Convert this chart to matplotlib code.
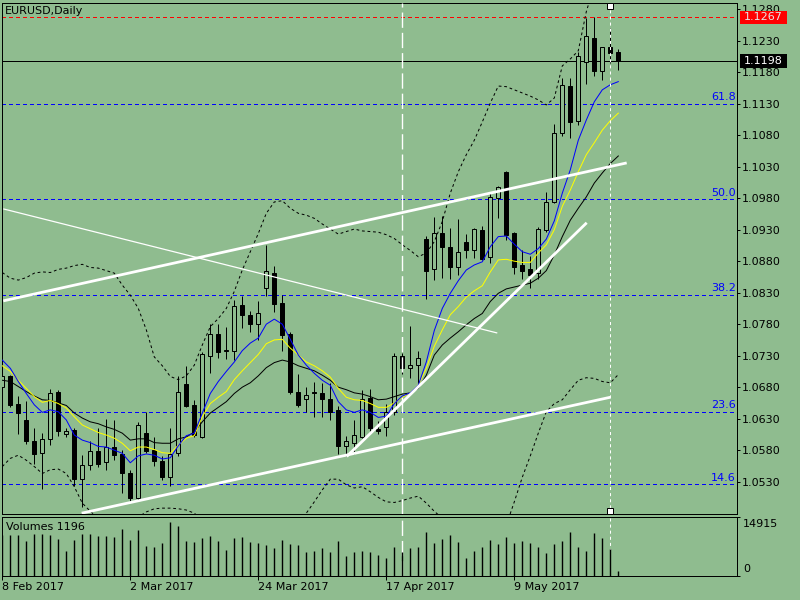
import matplotlib
matplotlib.use('Agg')
import matplotlib.pyplot as plt
import matplotlib.transforms as mtransforms
from matplotlib.patches import Rectangle
import numpy as np

plt.rcParams['font.family'] = ['DejaVu Sans']
plt.rcParams['lines.scale_dashes'] = False

# ---------------- data ----------------
symbol_title = "EURUSD,Daily"
tick_bars = [0, 16, 32, 48, 64]
tick_labels = ["8 Feb 2017", "2 Mar 2017", "24 Mar 2017", "17 Apr 2017", "9 May 2017"]

opens = [1.0681, 1.0697, 1.0654, 1.0628, 1.0595, 1.0575, 1.0597, 1.0672, 1.0605, 1.0612,
         1.0534, 1.0556, 1.0579, 1.0562, 1.0585, 1.0574, 1.0543, 1.0504, 1.0607, 1.0581,
         1.0563, 1.0537, 1.0575, 1.0685, 1.0651, 1.0601, 1.0730, 1.0764, 1.0737, 1.0738,
         1.0811, 1.0795, 1.0780, 1.0837, 1.0862, 1.0813, 1.0764, 1.0672, 1.0661, 1.0672,
         1.0670, 1.0662, 1.0644, 1.0587, 1.0592, 1.0601, 1.0663, 1.0613, 1.0617, 1.0640,
         1.0730, 1.0710, 1.0715, 1.0915, 1.0867, 1.0924, 1.0902, 1.0870, 1.0911, 1.0897,
         1.0929, 1.0886, 1.0981, 1.1021, 1.0924, 1.0874, 1.0867, 1.0861, 1.0930, 1.0974,
         1.1083, 1.1158, 1.1103, 1.1196, 1.1235, 1.1182, 1.1220, 1.1212]
highs = [1.0703, 1.0699, 1.0666, 1.0658, 1.0616, 1.0608, 1.0677, 1.0676, 1.0615, 1.0616,
         1.0572, 1.0594, 1.0616, 1.0630, 1.0628, 1.0581, 1.0549, 1.0624, 1.0640, 1.0601,
         1.0570, 1.0615, 1.0697, 1.0713, 1.0660, 1.0736, 1.0780, 1.0780, 1.0776, 1.0818,
         1.0825, 1.0801, 1.0817, 1.0906, 1.0872, 1.0826, 1.0768, 1.0701, 1.0680, 1.0689,
         1.0687, 1.0687, 1.0650, 1.0603, 1.0628, 1.0676, 1.0677, 1.0626, 1.0653, 1.0734,
         1.0734, 1.0777, 1.0738, 1.0920, 1.0950, 1.0951, 1.0932, 1.0947, 1.0923, 1.0933,
         1.0936, 1.0990, 1.0999, 1.1023, 1.0926, 1.0898, 1.0888, 1.0934, 1.0990, 1.1098,
         1.1170, 1.1170, 1.1212, 1.1266, 1.1267, 1.1220, 1.1250, 1.1216]
lows = [1.0676, 1.0649, 1.0605, 1.0590, 1.0558, 1.0518, 1.0589, 1.0603, 1.0601, 1.0523,
        1.0490, 1.0549, 1.0554, 1.0549, 1.0564, 1.0512, 1.0498, 1.0501, 1.0575, 1.0555,
        1.0532, 1.0523, 1.0570, 1.0649, 1.0601, 1.0599, 1.0703, 1.0726, 1.0725, 1.0723,
        1.0774, 1.0767, 1.0755, 1.0825, 1.0800, 1.0738, 1.0669, 1.0649, 1.0640, 1.0633,
        1.0632, 1.0628, 1.0574, 1.0570, 1.0574, 1.0599, 1.0610, 1.0605, 1.0603, 1.0636,
        1.0701, 1.0695, 1.0680, 1.0820, 1.0850, 1.0853, 1.0851, 1.0858, 1.0885, 1.0885,
        1.0882, 1.0877, 1.0948, 1.0914, 1.0860, 1.0851, 1.0837, 1.0852, 1.0927, 1.0973,
        1.1079, 1.1075, 1.1096, 1.1162, 1.1174, 1.1168, 1.1194, 1.1184]
closes = [1.0697, 1.0652, 1.0639, 1.0595, 1.0574, 1.0597, 1.0670, 1.0611, 1.0611, 1.0535,
          1.0556, 1.0579, 1.0558, 1.0585, 1.0572, 1.0544, 1.0504, 1.0620, 1.0579, 1.0563,
          1.0538, 1.0574, 1.0672, 1.0650, 1.0604, 1.0732, 1.0764, 1.0736, 1.0739, 1.0809,
          1.0795, 1.0780, 1.0797, 1.0864, 1.0812, 1.0763, 1.0672, 1.0652, 1.0667, 1.0670,
          1.0661, 1.0641, 1.0586, 1.0595, 1.0604, 1.0662, 1.0615, 1.0611, 1.0641, 1.0729,
          1.0710, 1.0715, 1.0726, 1.0865, 1.0924, 1.0903, 1.0871, 1.0894, 1.0897, 1.0931,
          1.0884, 1.0982, 1.0997, 1.0922, 1.0871, 1.0865, 1.0858, 1.0931, 1.0974, 1.1083,
          1.1160, 1.1101, 1.1205, 1.1238, 1.1182, 1.1220, 1.1210, 1.1198]

volumes = [10200, 10240, 10240, 8720, 10490, 10490, 10240, 9230, 6190, 8970,
           10490, 10490, 9990, 9990, 9730, 11760, 8970, 11500, 7460, 7200,
           8220, 13530, 12510, 8720, 8470, 9480, 9990, 8720, 6450, 9480,
           9730, 8470, 8220, 7710, 6950, 8970, 7960, 7710, 5940, 6190,
           6950, 5940, 8720, 4930, 5940, 6190, 5940, 5180, 4420, 7200,
           5940, 6950, 7200, 11000, 8220, 9230, 10240, 8470, 4420, 6190,
           7200, 8970, 7960, 9730, 8220, 8720, 8220, 7200, 5690, 7960,
           8720, 11000, 7200, 6190, 10740, 9480, 6700, 1196]
volume_max = 14915

ma_blue = [1.0723, 1.0710, 1.0689, 1.0670, 1.0652, 1.0640, 1.0644, 1.0641, 1.0628, 1.0604,
           1.0596, 1.0592, 1.0586, 1.0585, 1.0580, 1.0575, 1.0560, 1.0571, 1.0574, 1.0572,
           1.0566, 1.0568, 1.0587, 1.0603, 1.0607, 1.0639, 1.0670, 1.0689, 1.0705, 1.0720,
           1.0738, 1.0750, 1.0758, 1.0780, 1.0788, 1.0780, 1.0756, 1.0731, 1.0715, 1.0702,
           1.0691, 1.0683, 1.0657, 1.0644, 1.0640, 1.0644, 1.0640, 1.0632, 1.0634, 1.0654,
           1.0666, 1.0671, 1.0683, 1.0720, 1.0770, 1.0805, 1.0829, 1.0849, 1.0866, 1.0874,
           1.0879, 1.0903, 1.0919, 1.0920, 1.0907, 1.0895, 1.0891, 1.0900, 1.0915, 1.0944,
           1.0988, 1.1025, 1.1072, 1.1104, 1.1133, 1.1152, 1.1160, 1.1165]
ma_yellow = [1.0714, 1.0705, 1.0691, 1.0678, 1.0665, 1.0656, 1.0659, 1.0654, 1.0647, 1.0633,
             1.0620, 1.0614, 1.0608, 1.0604, 1.0599, 1.0591, 1.0579, 1.0585, 1.0585, 1.0581,
             1.0576, 1.0575, 1.0588, 1.0599, 1.0603, 1.0633, 1.0654, 1.0664, 1.0673, 1.0692,
             1.0706, 1.0719, 1.0732, 1.0749, 1.0755, 1.0756, 1.0742, 1.0731, 1.0720, 1.0714,
             1.0706, 1.0696, 1.0678, 1.0664, 1.0660, 1.0659, 1.0654, 1.0648, 1.0648, 1.0655,
             1.0664, 1.0671, 1.0683, 1.0710, 1.0745, 1.0771, 1.0795, 1.0808, 1.0823, 1.0833,
             1.0841, 1.0863, 1.0882, 1.0883, 1.0880, 1.0878, 1.0878, 1.0893, 1.0906, 1.0930,
             1.0967, 1.0993, 1.1022, 1.1049, 1.1068, 1.1088, 1.1103, 1.1115]
ma_black = [1.0691, 1.0689, 1.0681, 1.0673, 1.0666, 1.0660, 1.0659, 1.0655, 1.0651, 1.0639,
            1.0631, 1.0625, 1.0622, 1.0617, 1.0613, 1.0607, 1.0596, 1.0598, 1.0598, 1.0592,
            1.0591, 1.0591, 1.0598, 1.0601, 1.0609, 1.0625, 1.0639, 1.0648, 1.0657, 1.0670,
            1.0680, 1.0687, 1.0698, 1.0711, 1.0719, 1.0723, 1.0720, 1.0714, 1.0710, 1.0706,
            1.0699, 1.0691, 1.0680, 1.0676, 1.0671, 1.0669, 1.0665, 1.0660, 1.0661, 1.0665,
            1.0669, 1.0671, 1.0678, 1.0699, 1.0731, 1.0747, 1.0758, 1.0768, 1.0779, 1.0789,
            1.0797, 1.0816, 1.0829, 1.0836, 1.0839, 1.0842, 1.0845, 1.0853, 1.0865, 1.0890,
            1.0919, 1.0945, 1.0964, 1.0982, 1.1004, 1.1020, 1.1035, 1.1047]
bb_upper = [1.0862, 1.0853, 1.0850, 1.0854, 1.0861, 1.0863, 1.0862, 1.0867, 1.0869, 1.0873,
            1.0875, 1.0870, 1.0869, 1.0865, 1.0861, 1.0842, 1.0826, 1.0805, 1.0771, 1.0728,
            1.0714, 1.0697, 1.0692, 1.0698, 1.0715, 1.0747, 1.0776, 1.0789, 1.0805, 1.0832,
            1.0866, 1.0895, 1.0924, 1.0956, 1.0974, 1.0976, 1.0964, 1.0956, 1.0953, 1.0948,
            1.0939, 1.0931, 1.0923, 1.0927, 1.0931, 1.0928, 1.0927, 1.0926, 1.0922, 1.0916,
            1.0906, 1.0897, 1.0887, 1.0893, 1.0911, 1.0943, 1.0988, 1.1022, 1.1049, 1.1072,
            1.1101, 1.1131, 1.1158, 1.1157, 1.1152, 1.1147, 1.1142, 1.1136, 1.1128, 1.1139,
            1.1190, 1.1201, 1.1214, 1.1276, 1.1318, 1.1342, 1.1366, 1.1382]
bb_lower = [1.0554, 1.0567, 1.0572, 1.0564, 1.0554, 1.0543, 1.0549, 1.0550, 1.0543, 1.0522,
            1.0496, 1.0483, 1.0472, 1.0466, 1.0463, 1.0466, 1.0469, 1.0474, 1.0482, 1.0487,
            1.0488, 1.0488, 1.0487, 1.0485, 1.0480, 1.0469, 1.0458, 1.0450, 1.0442, 1.0434,
            1.0425, 1.0417, 1.0409, 1.0402, 1.0402, 1.0409, 1.0425, 1.0456, 1.0480, 1.0498,
            1.0517, 1.0534, 1.0534, 1.0525, 1.0520, 1.0522, 1.0514, 1.0505, 1.0498, 1.0497,
            1.0500, 1.0504, 1.0507, 1.0496, 1.0483, 1.0472, 1.0456, 1.0441, 1.0428, 1.0415,
            1.0406, 1.0402, 1.0418, 1.0461, 1.0498, 1.0537, 1.0571, 1.0607, 1.0641, 1.0654,
            1.0660, 1.0676, 1.0691, 1.0695, 1.0694, 1.0689, 1.0687, 1.0700]

fib_levels = [1.0526, 1.0641, 1.0827, 1.0978, 1.1130]
fib_labels = ["14.6", "23.6", "38.2", "50.0", "61.8"]

# trend lines: (bar, price) endpoints
upper_channel = [(0.125, 1.0817), (78.05, 1.1036)]
desc_line = [(0.125, 1.0963), (61.875, 1.0766)]
lower_channel = [(9.925, 1.0480), (76.0, 1.0664)]
support_line = [(43.05, 1.0570), (73.05, 1.0941)]

vline_a = 50
vline_b = 76
alert_price = 1.1267
bid_price = 1.1198
price_ticks = [1.0530, 1.0580, 1.0630, 1.0680, 1.0730, 1.0780, 1.0830, 1.0880,
               1.0930, 1.0980, 1.1030, 1.1080, 1.1130, 1.1180, 1.1230, 1.1280]

# ---------------- style ----------------
BG = '#8FBC8F'
PX = 0.72   # one pixel in points (dpi 100)
W, H = 800, 600

fig = plt.figure(figsize=(8, 6), dpi=100, facecolor=BG)


def rect(l, t, r, b):
    return [l / W, 1 - b / H, (r - l) / W, (b - t) / H]


ax = fig.add_axes(rect(2.3, 2.5, 737.3, 514))
axv = fig.add_axes(rect(2.3, 516.7, 737.3, 576))
XMAX = (737.3 - 2.3) / 8.0
for a in (ax, axv):
    a.set_facecolor(BG)
    a.set_xlim(0, XMAX)
    for s in a.spines.values():
        s.set_color('k')
        s.set_linewidth(PX)

ax.set_ylim(1.04787, 1.12906)

x = np.arange(len(closes))
DASH = (0, (2.2, 2.2))
DOT = (0, (2.0, 2.0))

# fibonacci levels (background)
ax.hlines(fib_levels, 0, XMAX, colors='#0000FF', lw=1.0, linestyles=DASH, zorder=1,
          antialiased=False)
for lev, lab in zip(fib_levels, fib_labels):
    ax.annotate(lab, xy=(XMAX - 0.2, lev), xycoords='data', xytext=(0, 2.5),
                textcoords='offset points', ha='right', va='baseline',
                color='#0000FF', fontsize=8, zorder=1)

# alert and bid lines
ax.hlines([alert_price], 0, XMAX, colors='#FF0000', lw=1.0, linestyles=DASH, zorder=1.2,
          antialiased=False)
ax.axhline(bid_price, color='k', lw=PX, zorder=1.2)

# candles
min_h = 0.00016
for i in x:
    o, h, l, c = opens[i], highs[i], lows[i], closes[i]
    ax.vlines(i, l, h, color='k', lw=PX, zorder=2)
    bot = min(o, c)
    ht = max(abs(c - o), min_h)
    face = BG if c >= o else 'k'
    ax.add_patch(Rectangle((i - 0.25, bot), 0.5, ht, facecolor=face,
                           edgecolor='k', lw=PX, zorder=3))

# indicators
ax.plot(x, bb_upper, color='k', lw=PX, ls=DOT, zorder=4)
ax.plot(x, bb_lower, color='k', lw=PX, ls=DOT, zorder=4)
ax.plot(x, ma_black, color='k', lw=PX, zorder=4)
ax.plot(x, ma_yellow, color='#FFFF00', lw=PX, zorder=4)
ax.plot(x, ma_blue, color='#0000FF', lw=PX, zorder=4)

# trend lines
for seg, lw in ((upper_channel, 2.0), (lower_channel, 2.0), (support_line, 2.0), (desc_line, 0.9)):
    ax.plot([seg[0][0], seg[1][0]], [seg[0][1], seg[1][1]], color='white', lw=lw,
            solid_capstyle='butt', zorder=5)

# vertical lines
for a, z in ((ax, 5), (axv, 1)):
    a.axvline(vline_a, color='white', lw=1.0, ls=(0, (11, 3.6)), zorder=z)
    a.axvline(vline_b, color='white', lw=PX, ls=(0, (2.2, 2.2)), zorder=z)
btrans = mtransforms.blended_transform_factory(ax.transData, ax.transAxes)
ax.plot([vline_b, vline_b], [0.9932, 0.0059], ls='none', marker='s', ms=4,
        mfc='white', mec='k', mew=PX, transform=btrans, clip_on=False, zorder=6)

# right price axis
ax.yaxis.tick_right()
ax.set_yticks(price_ticks)
ax.set_yticklabels([f"{v:.4f}" for v in price_ticks])
ax.tick_params(axis='y', direction='out', length=3 * PX, width=PX, pad=1.2,
               labelsize=8, colors='k')
ax.tick_params(axis='x', bottom=False, labelbottom=False)

# price boxes
rtrans = mtransforms.blended_transform_factory(ax.transAxes, ax.transData)
bx0 = (740 - 2.3) / 735.0
bx1 = (787 - 2.3) / 735.0
half = 6.8 / 6300.0
for price, fc, tc in ((alert_price, '#FF0000', '#E6E6E6'), (bid_price, 'k', 'white')):
    ax.add_patch(Rectangle((bx0, price - half), bx1 - bx0, 2 * half, transform=rtrans,
                           facecolor=fc, edgecolor='none', clip_on=False, zorder=10))
    ax.text((bx0 + bx1) / 2, price, f"{price:.4f}", transform=rtrans, ha='center',
            va='center', color=tc, fontsize=8, clip_on=False, zorder=11)

ax.text(0.0037, 0.9834, symbol_title, transform=ax.transAxes, ha='left', va='center',
        fontsize=8, color='k')

# volume panel
axv.vlines(x, 0, volumes, color='k', lw=1.0, zorder=2)
axv.set_ylim(0, volume_max)
axv.yaxis.tick_right()
axv.set_yticks([0, volume_max])
axv.tick_params(axis='y', direction='out', length=3 * PX, width=PX, labelright=False)
axv.annotate(str(volume_max), xy=(1, 1), xycoords='axes fraction', xytext=(4, -1.5),
             textcoords='offset points', ha='left', va='top', fontsize=8, color='k')
axv.annotate("0", xy=(1, 0), xycoords='axes fraction', xytext=(4, 1.5),
             textcoords='offset points', ha='left', va='bottom', fontsize=8, color='k')
axv.text(0.005, 0.82, f"Volumes {volumes[-1]}", transform=axv.transAxes, ha='left',
         va='center', fontsize=8, color='k')
axv.set_xticks(tick_bars)
axv.set_xticklabels(tick_labels, ha='left')
axv.tick_params(axis='x', direction='out', length=4 * PX, width=PX, pad=1.5,
                labelsize=8, colors='k')

fig.savefig('out.png', dpi=100, facecolor=BG)
